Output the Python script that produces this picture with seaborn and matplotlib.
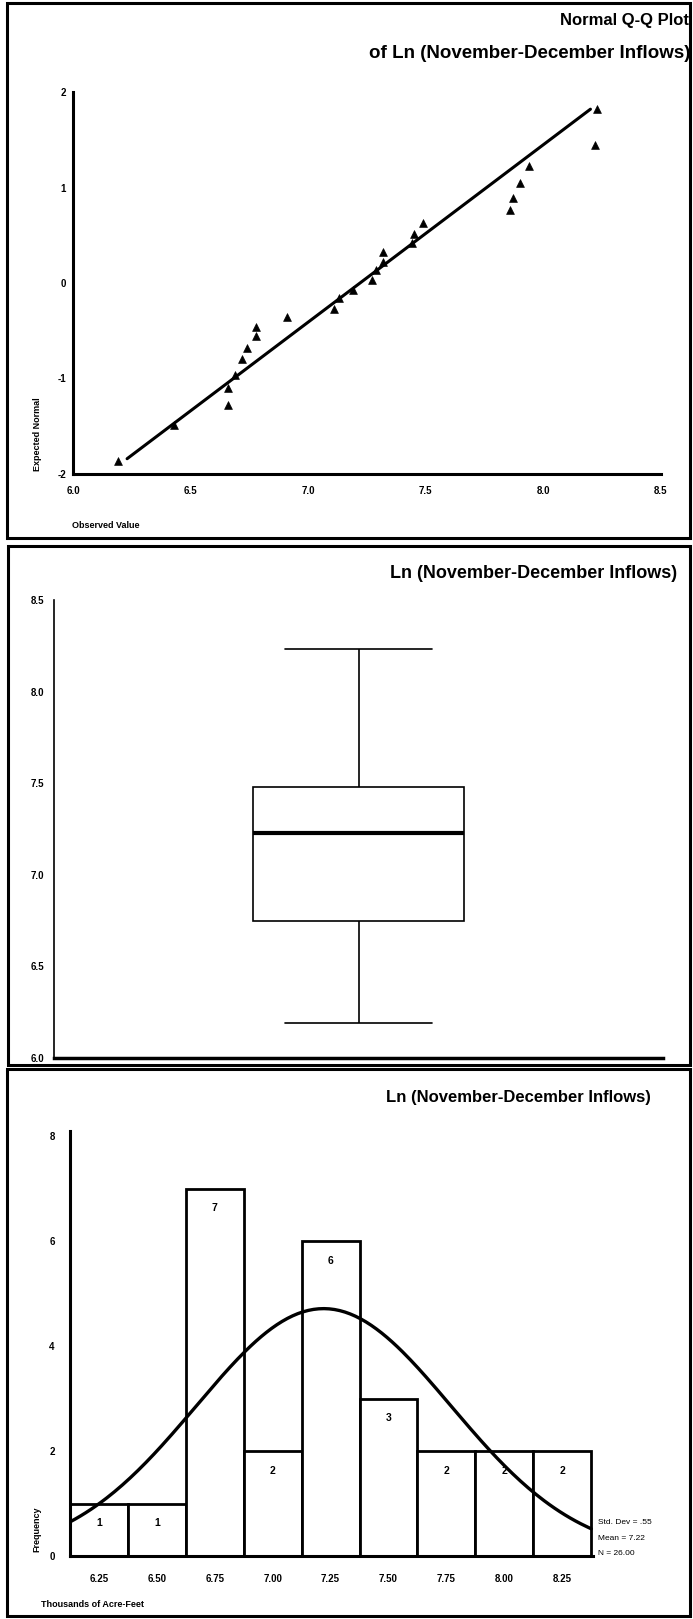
import numpy as np
import pandas as pd
import matplotlib
matplotlib.use('Agg')
import matplotlib.pyplot as plt
from matplotlib.patches import Rectangle
import seaborn as sns

sns.set_style('white')
plt.rcParams['font.family'] = ['Liberation Sans', 'DejaVu Sans']
plt.rcParams['text.color'] = 'black'
plt.rcParams['axes.labelcolor'] = 'black'
plt.rcParams['xtick.color'] = 'black'
plt.rcParams['ytick.color'] = 'black'
plt.rcParams['axes.edgecolor'] = 'black'

# Ln(November-December inflows), sorted
observed = [6.19, 6.43, 6.66, 6.66, 6.69, 6.72, 6.74, 6.78, 6.78, 6.91,
            7.11, 7.13, 7.19, 7.27, 7.29, 7.32, 7.32, 7.44, 7.45, 7.49,
            7.86, 7.87, 7.90, 7.94, 8.22, 8.23]
expected_normal = [-1.86, -1.49, -1.28, -1.10, -0.96, -0.80, -0.68, -0.56, -0.46, -0.36,
                   -0.27, -0.16, -0.07, 0.03, 0.14, 0.22, 0.32, 0.42, 0.51, 0.63,
                   0.76, 0.89, 1.05, 1.22, 1.44, 1.82]
line_x = [6.23, 8.20]
line_y = [-1.84, 1.82]

stat_mean = 7.22
stat_sd = 0.55
stat_n = 26
bin_edges = [6.125, 6.375, 6.625, 6.875, 7.125, 7.375, 7.625, 7.875, 8.125, 8.375]
hist_ticks = [6.25, 6.50, 6.75, 7.00, 7.25, 7.50, 7.75, 8.00, 8.25]

W, H = 693, 1619
fig = plt.figure(figsize=(W / 100, H / 100), dpi=100)


def rect(l, r, top, bottom):
    return [l / W, 1 - bottom / H, (r - l) / W, (bottom - top) / H]


def ftext(x, y, s, **kw):
    fig.text(x / W, 1 - y / H, s, **kw)


bold = dict(fontweight='bold')
tick_fs = 7

# panel frames
for l, r, t, b in [(7, 690, 3, 538), (8, 690, 546, 1065), (7, 690, 1069, 1616)]:
    fig.add_artist(Rectangle((l / W, 1 - b / H), (r - l) / W, (b - t) / H,
                             transform=fig.transFigure, fill=False,
                             edgecolor='black', linewidth=2.2))

# ---- 1. Normal Q-Q plot
ax1 = fig.add_axes(rect(73, 661, 92, 474))
sns.lineplot(x=line_x, y=line_y, color='black', linewidth=2.2, ax=ax1)
sns.scatterplot(x=observed, y=expected_normal, marker='^', color='black',
                s=32, edgecolor='black', ax=ax1)
ax1.set_xlim(6.0, 8.5)
ax1.set_ylim(-2, 2)
ax1.set_xticks([6.0, 6.5, 7.0, 7.5, 8.0, 8.5])
ax1.set_xticklabels(['6.0', '6.5', '7.0', '7.5', '8.0', '8.5'])
ax1.set_yticks([-2, -1, 0, 1, 2])
ax1.set_yticklabels(['-2', '-1', '0', '1', '2'])
ax1.tick_params(axis='x', direction='out', length=3, width=1.5, pad=6, labelsize=tick_fs)
ax1.tick_params(axis='y', direction='out', length=3, width=1.5, pad=2, labelsize=tick_fs)
for lab in ax1.get_xticklabels() + ax1.get_yticklabels():
    lab.set_fontweight('bold')
sns.despine(ax=ax1)
ax1.spines['left'].set_linewidth(2.2)
ax1.spines['bottom'].set_linewidth(2.2)

ftext(689, 20, 'Normal Q-Q Plot', ha='right', va='center', fontsize=12, **bold)
ftext(690, 54, 'of Ln (November-December Inflows)', ha='right', va='center', fontsize=13.5, **bold)
ftext(38, 434, 'Expected Normal', rotation=90, ha='center', va='center', fontsize=6.5, **bold)
ftext(72, 526, 'Observed Value', ha='left', va='center', fontsize=6.5, **bold)

# ---- 2. Box plot
ax2 = fig.add_axes(rect(54, 663, 600, 1058))
box_df = pd.DataFrame({'grp': ['Ln'] * len(observed), 'value': observed})
sns.boxplot(data=box_df, x='grp', y='value', width=0.348, color='white',
            linecolor='black', linewidth=1.2, whis=np.inf, showfliers=False,
            medianprops=dict(linewidth=3, color='black'), capwidths=0.241, ax=ax2)
ax2.set_xlim(-0.5, 0.5)
ax2.set_ylim(6.0, 8.5)
ax2.set_xticks([0])
ax2.set_xticklabels([''])
ax2.set_xlabel('')
ax2.set_ylabel('')
ax2.set_yticks([6.0, 6.5, 7.0, 7.5, 8.0, 8.5])
ax2.set_yticklabels(['6.0', '6.5', '7.0', '7.5', '8.0', '8.5'])
ax2.tick_params(axis='x', direction='out', length=3, width=2)
ax2.tick_params(axis='y', direction='out', length=2, width=1.2, pad=5, labelsize=tick_fs)
for lab in ax2.get_yticklabels():
    lab.set_fontweight('bold')
sns.despine(ax=ax2)
ax2.spines['left'].set_linewidth(1.2)
ax2.spines['bottom'].set_linewidth(2.5)

ftext(677, 573, 'Ln (November-December Inflows)', ha='right', va='center', fontsize=13, **bold)

# ---- 3. Histogram with normal curve
ax3 = fig.add_axes(rect(70, 593, 1131, 1556))
sns.histplot(x=observed, bins=bin_edges, color='white', edgecolor='black',
             linewidth=2, alpha=1, ax=ax3)
curve_x = np.linspace(bin_edges[0], bin_edges[-1], 200)
binw = bin_edges[1] - bin_edges[0]
curve_y = stat_n * binw * np.exp(-0.5 * ((curve_x - stat_mean) / stat_sd) ** 2) / (stat_sd * np.sqrt(2 * np.pi))
sns.lineplot(x=curve_x, y=curve_y, color='black', linewidth=2.4, ax=ax3)
for p in ax3.patches:
    h = p.get_height()
    if h > 0:
        ax3.annotate(f'{int(round(h))}', (p.get_x() + p.get_width() / 2, h),
                     xytext=(0, -14), textcoords='offset points',
                     ha='center', va='center', fontsize=7.5, fontweight='bold')
ax3.set_xlim(6.125, 8.383)
ax3.set_ylim(0, 8.1)
ax3.set_xticks(hist_ticks)
ax3.set_xticklabels([f'{t:.2f}' for t in hist_ticks])
ax3.set_yticks([0, 2, 4, 6, 8])
ax3.set_yticklabels(['0', '2', '4', '6', '8'])
ax3.set_xlabel('')
ax3.set_ylabel('')
ax3.tick_params(axis='x', direction='out', length=4, width=2, pad=9, labelsize=tick_fs)
ax3.tick_params(axis='y', direction='out', length=3, width=1.5, pad=8, labelsize=tick_fs)
for lab in ax3.get_xticklabels() + ax3.get_yticklabels():
    lab.set_fontweight('bold')
sns.despine(ax=ax3)
ax3.spines['left'].set_linewidth(2.2)
ax3.spines['bottom'].set_linewidth(2.2)

ftext(651, 1097, 'Ln (November-December Inflows)', ha='right', va='center', fontsize=12, **bold)
ftext(37, 1529, 'Frequency', rotation=90, ha='center', va='center', fontsize=6.5, **bold)
ftext(41, 1604, 'Thousands of Acre-Feet', ha='left', va='center', fontsize=6.5, **bold)
ftext(598, 1522, 'Std. Dev = .55', ha='left', va='center', fontsize=6)
ftext(598, 1538, f'Mean = {stat_mean:.2f}', ha='left', va='center', fontsize=6)
ftext(598, 1553, f'N = {stat_n:.2f}', ha='left', va='center', fontsize=6)

fig.savefig('out.png', dpi=100)
